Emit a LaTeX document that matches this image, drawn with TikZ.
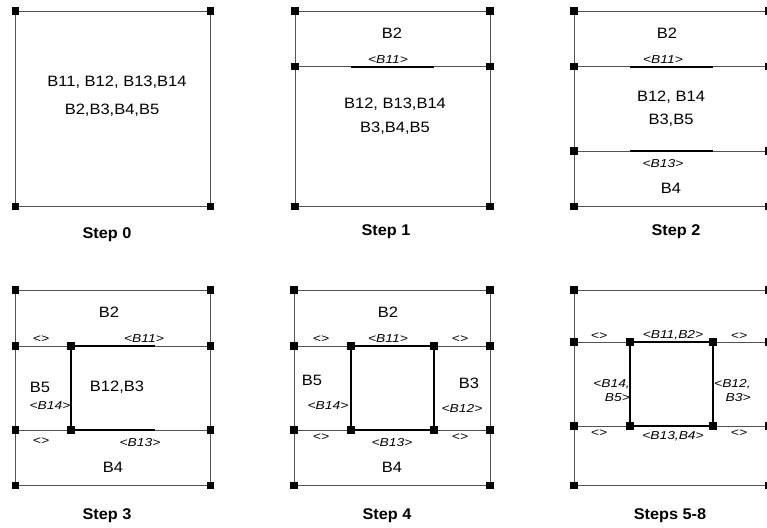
\documentclass[tikz,border=0pt]{standalone}
\usepackage{fontspec}
\setmainfont{Liberation Sans}
\newfontfamily\bigfont[FakeStretch=1.1]{Liberation Sans}
\newfontfamily\labfont[FakeStretch=1.2]{Liberation Sans}
\newfontfamily\stepfont[FakeStretch=1.05]{Liberation Sans}
\tikzset{
  thinl/.style={draw=black!68, line width=0.8pt},
  boldl/.style={draw=black, line width=1.8pt},
  sq/.style={fill=black, draw=none, minimum size=7.5pt, inner sep=0pt, outer sep=0pt},
  big/.style={font=\bigfont\fontsize{15}{18}\selectfont, inner sep=0pt},
  lab/.style={font=\labfont\itshape\fontsize{11.5}{14}\selectfont, inner sep=0pt},
  steplab/.style={font=\stepfont\bfseries\fontsize{15.5}{18}\selectfont, inner sep=0pt}
}
\begin{document}
\begin{tikzpicture}[x=1pt,y=-1pt]
\useasboundingbox (0,0) rectangle (767,527);
% ---------------- Step 0
\coordinate (s0a) at (15.7,11);   \coordinate (s0b) at (210.7,11);
\coordinate (s0c) at (15.7,206.7);\coordinate (s0d) at (210.7,206.7);
\draw[thinl] (s0a) -- (s0b) -- (s0d) -- (s0c) -- cycle;
\foreach \n in {s0a,s0b,s0c,s0d} \node[sq] (q\n) at (\n) {};
\node[big] (t0a) at (117,82) {B11, B12, B13,B14};
\node[big] (t0b) at (112,110) {B2,B3,B4,B5};
\node[steplab] (st0) at (107,235) {Step 0};
% ---------------- Step 1
\coordinate (s1a) at (295,11);   \coordinate (s1b) at (490,11);
\coordinate (s1c) at (295,66.7); \coordinate (s1d) at (490,66.7);
\coordinate (s1e) at (295,206.7);\coordinate (s1f) at (490,206.7);
\coordinate (s1g) at (350.7,66.7);\coordinate (s1h) at (434,66.7);
\draw[thinl] (s1a) -- (s1b) -- (s1f) -- (s1e) -- cycle;
\draw[thinl] (s1c) -- (s1d);
\draw[boldl] (s1g) -- (s1h);
\foreach \n in {s1a,s1b,s1c,s1d,s1e,s1f} \node[sq] (q\n) at (\n) {};
\node[big] (t1a) at (392,33) {B2};
\node[lab] (l1a) at (388,60) {<B11>};
\node[big] (t1b) at (395,104) {B12, B13,B14};
\node[big] (t1c) at (395,128) {B3,B4,B5};
\node[steplab] (st1) at (386,232) {Step 1};
% ---------------- Step 2
\coordinate (s2a) at (574,11);   \coordinate (s2b) at (769,11);
\coordinate (s2c) at (574,66.7); \coordinate (s2d) at (769,66.7);
\coordinate (s2e) at (574,151);  \coordinate (s2f) at (769,151);
\coordinate (s2g) at (574,206.7);\coordinate (s2h) at (769,206.7);
\coordinate (s2i) at (630,66.7); \coordinate (s2j) at (713,66.7);
\coordinate (s2k) at (630,151);  \coordinate (s2l) at (713,151);
\draw[thinl] (s2a) -- (s2b) -- (s2h) -- (s2g) -- cycle;
\draw[thinl] (s2c) -- (s2d);
\draw[thinl] (s2e) -- (s2f);
\draw[boldl] (s2i) -- (s2j);
\draw[boldl] (s2k) -- (s2l);
\foreach \n in {s2a,s2b,s2c,s2d,s2e,s2f,s2g,s2h} \node[sq] (q\n) at (\n) {};
\node[big] (t2a) at (667,33) {B2};
\node[lab] (l2a) at (663,60) {<B11>};
\node[big] (t2b) at (671,97) {B12, B14};
\node[big] (t2c) at (671,120) {B3,B5};
\node[lab] (l2b) at (663,164) {<B13>};
\node[big] (t2d) at (671,188) {B4};
\node[steplab] (st2) at (676,232) {Step 2};
% ---------------- Step 3
\coordinate (s3a) at (15.7,290);  \coordinate (s3b) at (210.7,290);
\coordinate (s3c) at (15.7,346);  \coordinate (s3d) at (210.7,346);
\coordinate (s3e) at (15.7,430);  \coordinate (s3f) at (210.7,430);
\coordinate (s3g) at (15.7,485.7);\coordinate (s3h) at (210.7,485.7);
\coordinate (s3i) at (71,346);    \coordinate (s3j) at (71,430);
\coordinate (s3k) at (155,346);   \coordinate (s3l) at (155,430);
\draw[thinl] (s3a) -- (s3b) -- (s3h) -- (s3g) -- cycle;
\draw[thinl] (s3c) -- (s3d);
\draw[thinl] (s3e) -- (s3f);
\draw[boldl] (s3k) -- (s3i) -- (s3j) -- (s3l);
\foreach \n in {s3a,s3b,s3c,s3d,s3e,s3f,s3g,s3h,s3i,s3j} \node[sq] (q\n) at (\n) {};
\node[big] (t3a) at (109,312) {B2};
\node[lab] (l3a) at (41,339) {<>};
\node[lab] (l3b) at (144,339) {<B11>};
\node[big] (t3b) at (40,387) {B5};
\node[big] (t3c) at (117,387) {B12,B3};
\node[lab] (l3c) at (50,406) {<B14>};
\node[lab] (l3d) at (41,441) {<>};
\node[lab] (l3e) at (140,443) {<B13>};
\node[big] (t3d) at (113,467) {B4};
\node[steplab] (st3) at (107,516) {Step 3};
% ---------------- Step 4
\coordinate (s4a) at (294,290);  \coordinate (s4b) at (490,290);
\coordinate (s4c) at (294,346);  \coordinate (s4d) at (490,346);
\coordinate (s4e) at (294,430);  \coordinate (s4f) at (490,430);
\coordinate (s4g) at (294,485.7);\coordinate (s4h) at (490,485.7);
\coordinate (s4i) at (351,346);  \coordinate (s4j) at (434,346);
\coordinate (s4k) at (351,430);  \coordinate (s4l) at (434,430);
\draw[thinl] (s4a) -- (s4b) -- (s4h) -- (s4g) -- cycle;
\draw[thinl] (s4c) -- (s4d);
\draw[thinl] (s4e) -- (s4f);
\draw[boldl] (s4i) -- (s4j) -- (s4l) -- (s4k) -- cycle;
\foreach \n in {s4a,s4b,s4c,s4d,s4e,s4f,s4g,s4h,s4i,s4j,s4k,s4l} \node[sq] (q\n) at (\n) {};
\node[big] (t4a) at (388,312) {B2};
\node[lab] (l4a) at (321,339) {<>};
\node[lab] (l4b) at (388,339) {<B11>};
\node[lab] (l4c) at (460,339) {<>};
\node[big] (t4b) at (312,380) {B5};
\node[big] (t4c) at (469,383) {B3};
\node[lab] (l4d) at (328,406) {<B14>};
\node[lab] (l4e) at (462,408) {<B12>};
\node[lab] (l4f) at (321,437) {<>};
\node[lab] (l4g) at (392,443) {<B13>};
\node[lab] (l4h) at (460,437) {<>};
\node[big] (t4d) at (392,467) {B4};
\node[steplab] (st4) at (387,516) {Step 4};
% ---------------- Steps 5-8
\coordinate (s5a) at (574,290);  \coordinate (s5b) at (769,290);
\coordinate (s5c) at (574,342);  \coordinate (s5d) at (769,342);
\coordinate (s5e) at (574,426);  \coordinate (s5f) at (769,426);
\coordinate (s5g) at (574,485.7);\coordinate (s5h) at (769,485.7);
\coordinate (s5i) at (630,342);  \coordinate (s5j) at (713,342);
\coordinate (s5k) at (630,426);  \coordinate (s5l) at (713,426);
\draw[thinl] (s5a) -- (s5b) -- (s5h) -- (s5g) -- cycle;
\draw[thinl] (s5c) -- (s5d);
\draw[thinl] (s5e) -- (s5f);
\draw[boldl] (s5i) -- (s5j) -- (s5l) -- (s5k) -- cycle;
\foreach \n in {s5a,s5b,s5c,s5d,s5e,s5f,s5g,s5h,s5i,s5j,s5k,s5l} \node[sq] (q\n) at (\n) {};
\node[lab] (l5a) at (599,336) {<>};
\node[lab] (l5b) at (673,335) {<B11,B2>};
\node[lab] (l5c) at (739,336) {<>};
\node[lab, align=right, anchor=east] (l5d) at (630,391) {<B14,\\B5>};
\node[lab, align=right, anchor=west] (l5e) at (714,391) {<B12,\\B3>};
\node[lab] (l5f) at (599,433) {<>};
\node[lab] (l5g) at (673,436) {<B13,B4>};
\node[lab] (l5h) at (739,433) {<>};
\node[steplab] (st5) at (670,516) {Steps 5-8};
\end{tikzpicture}
\end{document}
